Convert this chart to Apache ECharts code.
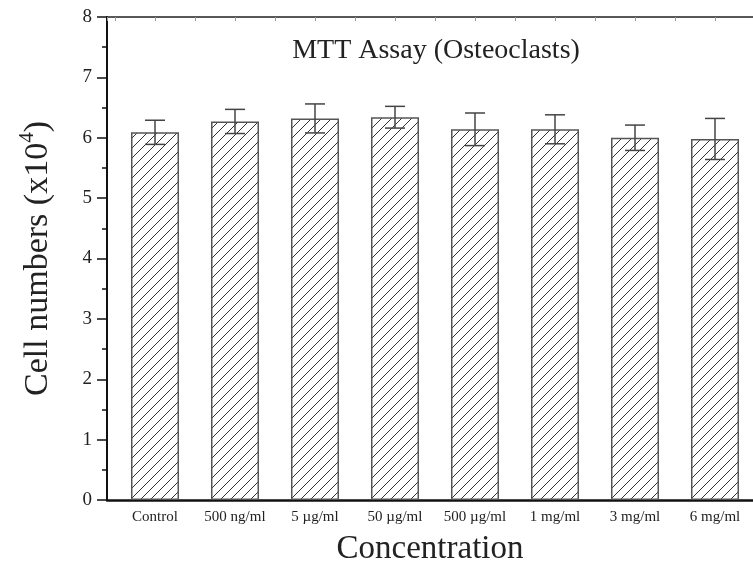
<!DOCTYPE html>
<html>
<head>
<meta charset="utf-8">
<script src="https://cdn.jsdelivr.net/npm/echarts@6/dist/echarts.min.js"></script>
<style>html,body{margin:0;padding:0;background:#fff}#c{width:753px;height:570px}</style>
</head>
<body>
<div id="c"></div>
<script>
var categories = ['Control', '500 ng/ml', '5 \u00b5g/ml', '50 \u00b5g/ml', '500 \u00b5g/ml', '1 mg/ml', '3 mg/ml', '6 mg/ml'];
var cellNumbers = [6.09, 6.27, 6.32, 6.34, 6.14, 6.14, 6.00, 5.98];
var errors = [0.20, 0.20, 0.24, 0.18, 0.27, 0.24, 0.21, 0.34];
var yTicks = [0, 1, 2, 3, 4, 5, 6, 7, 8];

var FONT = '"Liberation Serif", "Times New Roman", serif';

// hatch pattern
var pc = document.createElement('canvas');
var T = 10;
pc.width = T; pc.height = T;
var g = pc.getContext('2d');
g.fillStyle = '#fff'; g.fillRect(0, 0, T, T);
g.strokeStyle = '#333'; g.lineWidth = 1;
g.beginPath();
g.moveTo(-1, T + 1); g.lineTo(T + 1, -1);
g.moveTo(-1, 1); g.lineTo(1, -1);
g.moveTo(T - 1, T + 1); g.lineTo(T + 1, T - 1);
g.stroke();

var barData = cellNumbers.map(function (v, i) { return [i + 1, v]; });
var errData = cellNumbers.map(function (v, i) { return [i + 1, v, errors[i]]; });

var chart = echarts.init(document.getElementById('c'), null, {renderer: 'canvas'});
chart.setOption({
  animation: false,
  backgroundColor: '#fff',
  grid: {left: 107, right: 0, top: 17, bottom: 70, containLabel: false, outerBoundsMode: 'none'},
  graphic: [{
    type: 'text', x: 436, y: 51,
    style: {text: 'MTT Assay (Osteoclasts)', font: '28px ' + FONT, fill: '#222',
      textAlign: 'center', textVerticalAlign: 'middle'}
  }],
  xAxis: [{
    type: 'value', min: 0.4, max: 8.475, minInterval: 1, maxInterval: 1,
    position: 'bottom',
    name: 'Concentration', nameLocation: 'middle', nameGap: 33,
    nameTextStyle: {fontFamily: FONT, fontSize: 33, color: '#222'},
    axisLine: {show: true, lineStyle: {color: '#111', width: 2.5}},
    axisTick: {show: false},
    splitLine: {show: false},
    axisLabel: {
      margin: 10, fontFamily: FONT, fontSize: 15, color: '#222',
      showMinLabel: false, showMaxLabel: false,
      formatter: function (v) {
        var i = Math.round(v);
        return Math.abs(v - i) < 1e-6 && categories[i - 1] ? categories[i - 1] : '';
      }
    }
  }, {
    type: 'value', min: 0.4, max: 8.475, minInterval: 0.5, maxInterval: 0.5,
    position: 'top',
    axisLine: {show: true, lineStyle: {color: '#222', width: 1.5}},
    axisTick: {show: true, inside: true, length: 4, lineStyle: {color: '#999', width: 1}},
    axisLabel: {show: false},
    splitLine: {show: false}
  }],
  yAxis: {
    type: 'value', min: yTicks[0], max: yTicks[yTicks.length - 1], interval: 1,
    name: 'Cell numbers (x10{sup|4})', nameLocation: 'middle', nameGap: 48,
    nameTextStyle: {
      fontFamily: FONT, fontSize: 34, color: '#222', lineHeight: 42,
      rich: {sup: {fontFamily: FONT, fontSize: 21, color: '#222', verticalAlign: 'top', lineHeight: 42}}
    },
    axisLine: {show: true, lineStyle: {color: '#111', width: 2}},
    axisTick: {show: true, inside: false, length: 10, lineStyle: {color: '#111', width: 1.5}},
    minorTick: {show: true, splitNumber: 2, length: 5, lineStyle: {color: '#111', width: 1.5}},
    splitLine: {show: false},
    axisLabel: {margin: 15, fontFamily: FONT, fontSize: 19, color: '#222'}
  },
  series: [{
    type: 'bar',
    xAxisIndex: 0,
    data: barData,
    barWidth: 48,
    itemStyle: {color: {image: pc, repeat: 'repeat'}, borderColor: '#555', borderWidth: 1.5},
    z: 2
  }, {
    type: 'custom',
    xAxisIndex: 0,
    data: errData,
    z: 5,
    renderItem: function (params, api) {
      var x = api.value(0), y = api.value(1), e = api.value(2);
      var hi = api.coord([x, y + e]);
      var lo = api.coord([x, y - e]);
      var hw = 10;
      var st = {stroke: '#444', lineWidth: 1.5};
      return {type: 'group', children: [
        {type: 'line', shape: {x1: hi[0], y1: hi[1], x2: lo[0], y2: lo[1]}, style: st},
        {type: 'line', shape: {x1: hi[0] - hw, y1: hi[1], x2: hi[0] + hw, y2: hi[1]}, style: st},
        {type: 'line', shape: {x1: lo[0] - hw, y1: lo[1], x2: lo[0] + hw, y2: lo[1]}, style: st}
      ]};
    }
  }]
});
</script>
</body>
</html>
